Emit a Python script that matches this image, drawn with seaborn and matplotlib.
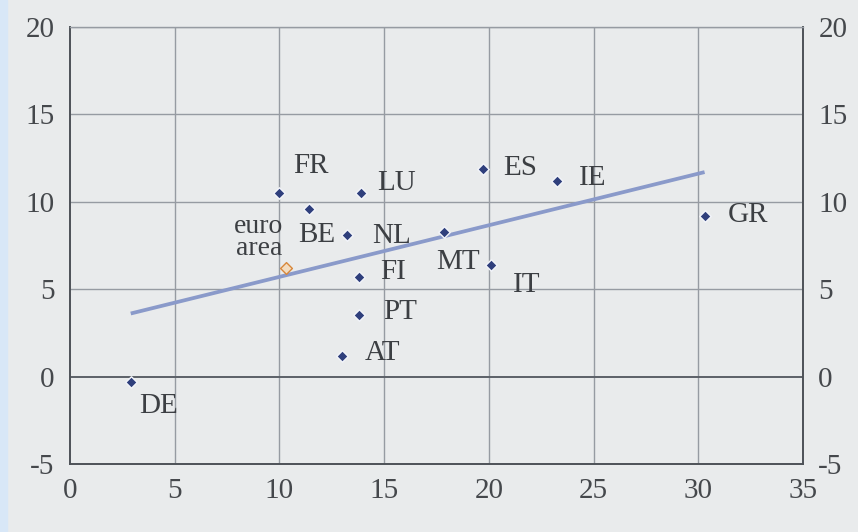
import matplotlib
matplotlib.use("Agg")
import matplotlib.pyplot as plt
import seaborn as sns
import pandas as pd

# Country observations
countries = ["DE", "FR", "BE", "LU", "NL", "FI", "PT", "AT", "MT", "ES", "IE", "IT", "GR"]
x_values = [2.9, 10.0, 11.4, 13.9, 13.25, 13.8, 13.8, 13.0, 17.85, 19.7, 23.25, 20.1, 30.3]
y_values = [-0.3, 10.5, 9.6, 10.5, 8.1, 5.7, 3.5, 1.2, 8.3, 11.9, 11.2, 6.4, 9.2]

# Euro area aggregate
euro_label = "euro\narea"
euro_x = [10.3]
euro_y = [6.2]

x_ticks = [0, 5, 10, 15, 20, 25, 30, 35]
y_ticks = [-5, 0, 5, 10, 15, 20]

df = pd.DataFrame({"country": countries, "x": x_values, "y": y_values})
euro = pd.DataFrame({"x": euro_x, "y": euro_y})

sns.set_theme(style="white")
plt.rcParams["font.family"] = ["Liberation Serif", "DejaVu Serif"]
plt.rcParams["axes.unicode_minus"] = False

bg = "#e9ebec"
fig = plt.figure(figsize=(8.58, 5.32), dpi=100, facecolor=bg)
# thin light-blue strip along the left edge
fig.patches.append(plt.Rectangle((0, 0), 7 / 858, 1, transform=fig.transFigure,
                                 color="#d8e7f7", zorder=0))
ax = fig.add_axes([70 / 858, 1 - 464 / 532, 733 / 858, 437 / 532])
ax.set_facecolor(bg)

# grid
grid_c = "#969ba2"
for xv in x_ticks[1:-1]:
    ax.axvline(xv, color=grid_c, lw=1.0, zorder=1)
for yv in y_ticks[2:]:
    ax.axhline(yv, color=grid_c, lw=1.0, zorder=1)
ax.axhline(0, color="#5c6168", lw=1.4, zorder=1)

# fitted line
sns.regplot(data=df, x="x", y="y", scatter=False, ci=None, truncate=True, ax=ax,
            line_kws={"color": "#8a9aca", "lw": 2.7, "zorder": 2, "solid_capstyle": "butt"})

# points
sns.scatterplot(data=df, x="x", y="y", marker="D", s=34, color="#2f3f7c",
                edgecolor="#f4f6fb", linewidth=1.0, ax=ax, zorder=4)
sns.scatterplot(data=euro, x="x", y="y", marker="D", s=36, color="#f3dcc0",
                edgecolor="#d8873a", linewidth=1.0, ax=ax, zorder=4)

# label placement (pixel offsets from each mark)
offsets = {
    "FR": (14, 27, "left"), "LU": (16, 10, "left"), "BE": (8, -26, "center"),
    "NL": (25, -1, "left"), "MT": (14, -30, "center"), "FI": (21, 5, "left"),
    "PT": (24, 3, "left"), "AT": (22, 3, "left"), "ES": (21, 1, "left"),
    "IE": (22, 3, "left"), "GR": (23, 1, "left"), "IT": (22, -20, "left"),
    "DE": (8, -24, "left"),
}
label_c = "#3c3f43"
for c, xv, yv in zip(countries, x_values, y_values):
    dx, dy, ha = offsets[c]
    ax.annotate(c, (xv, yv), xytext=(dx, dy), textcoords="offset pixels",
                ha=ha, va="center", fontsize=21, color=label_c, zorder=5)
ax.annotate(euro_label, (euro_x[0], euro_y[0]), xytext=(-3, 31), textcoords="offset pixels",
            ha="right", va="center", fontsize=20, color=label_c, linespacing=0.85, zorder=5)

ax.set_xlim(0, 35)
ax.set_ylim(-5, 20)
ax.set_xticks(x_ticks)
ax.set_yticks(y_ticks)
ax.set_xlabel("")
ax.set_ylabel("")
ax.tick_params(axis="x", direction="out", length=6, width=1, color="#6a6f75",
               labelsize=21, labelcolor="#45484c", pad=4)
ax.tick_params(axis="y", length=0, labelsize=21, labelcolor="#45484c", pad=11,
               labelright=True, labelleft=True)

for side in ["left", "right", "bottom"]:
    ax.spines[side].set_visible(True)
    ax.spines[side].set_color("#4d5157")
    ax.spines[side].set_linewidth(1.4)
ax.spines["top"].set_color(grid_c)
ax.spines["top"].set_linewidth(1.0)

fig.savefig("out.png", dpi=100, facecolor=bg)
